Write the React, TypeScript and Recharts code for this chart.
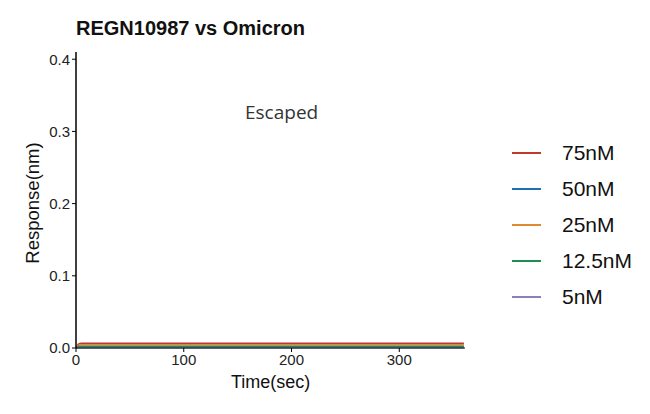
import React from "react";
import { LineChart, Line, XAxis, YAxis } from "recharts";

const times = [0, 1, 2, 3, 5, 8, 20, 60, 120, 180, 240, 300, 360];
const s75 = [0, 0.003, 0.005, 0.006, 0.0065, 0.0065, 0.0065, 0.0065, 0.0065, 0.0065, 0.0065, 0.0065, 0.0065];
const s50 = [0, 0.0005, 0.0008, 0.001, 0.001, 0.001, 0.001, 0.001, 0.001, 0.001, 0.001, 0.001, 0.001];
const s25 = [0, 0.002, 0.0035, 0.004, 0.0045, 0.0045, 0.0045, 0.0045, 0.0045, 0.0045, 0.0045, 0.0045, 0.0045];
const s12 = [0, 0.001, 0.002, 0.0025, 0.0025, 0.0025, 0.0025, 0.0025, 0.0025, 0.0025, 0.0025, 0.0025, 0.0025];
const s5 = [0, 0.0002, 0.0004, 0.0005, 0.0005, 0.0005, 0.0005, 0.0005, 0.0005, 0.0005, 0.0005, 0.0005, 0.0005];

const seriesNames = ["75nM", "50nM", "25nM", "12.5nM", "5nM"];
const seriesColors = ["#C0392B", "#1F6FB4", "#E08A2E", "#1E8C55", "#8C7FBF"];
const seriesValues = [s75, s50, s25, s12, s5];
const xTicks = [0, 100, 200, 300];
const yTicks = [0, 0.1, 0.2, 0.3, 0.4];

const data = times.map((t, i) => {
  const row: Record<string, number> = { t };
  seriesNames.forEach((n, k) => (row[n] = seriesValues[k][i]));
  return row;
});

const font = "Arial, 'Liberation Sans', sans-serif";

export default function App() {
  return (
    <div style={{ position: "absolute", left: 0, top: 0, width: 650, height: 414, background: "#fff", fontFamily: font }}>
      <LineChart width={650} height={414} data={data} margin={{ top: 52, right: 185, bottom: 36, left: 36 }}>
        <XAxis
          dataKey="t"
          type="number"
          domain={[0, 361]}
          ticks={xTicks}
          height={30}
          tickSize={4}
          axisLine={{ stroke: "#000", strokeWidth: 1 }}
          tickLine={{ stroke: "#000" }}
          tick={{ fill: "#222", fontSize: 15, fontFamily: font }}
        />
        <YAxis
          type="number"
          domain={[0, 0.41]}
          ticks={yTicks}
          width={40}
          tickSize={4}
          tickFormatter={(v: number) => v.toFixed(1)}
          axisLine={{ stroke: "#000", strokeWidth: 1.5 }}
          tickLine={{ stroke: "#000" }}
          tick={{ fill: "#222", fontSize: 15, fontFamily: font }}
        />
        {seriesNames.map((n, k) => (
          <Line key={n} dataKey={n} stroke={seriesColors[k]} strokeWidth={1.5} dot={false} isAnimationActive={false} type="linear" />
        ))}
      </LineChart>
      <div style={{ position: "absolute", left: 76, top: 17, fontSize: 20, fontWeight: "bold", color: "#111" }}>REGN10987 vs Omicron</div>
      <div style={{ position: "absolute", left: 245, top: 99, fontSize: 19, color: "#333", fontFamily: "'Open Sans', sans-serif" }}>Escaped</div>
      <div style={{ position: "absolute", left: 231, top: 372, fontSize: 18, color: "#111" }}>Time(sec)</div>
      <div style={{ position: "absolute", left: 33, top: 203, fontSize: 18.5, color: "#111", transform: "translate(-50%, -50%) rotate(-90deg)", whiteSpace: "nowrap" }}>Response(nm)</div>
      <div style={{ position: "absolute", left: 512, top: 135 }}>
        {seriesNames.map((n, k) => (
          <div key={n} style={{ display: "flex", alignItems: "center", height: 36 }}>
            <div style={{ width: 29, height: 2, background: seriesColors[k], marginRight: 21 }} />
            <span style={{ fontSize: 21, color: "#111" }}>{n}</span>
          </div>
        ))}
      </div>
    </div>
  );
}
